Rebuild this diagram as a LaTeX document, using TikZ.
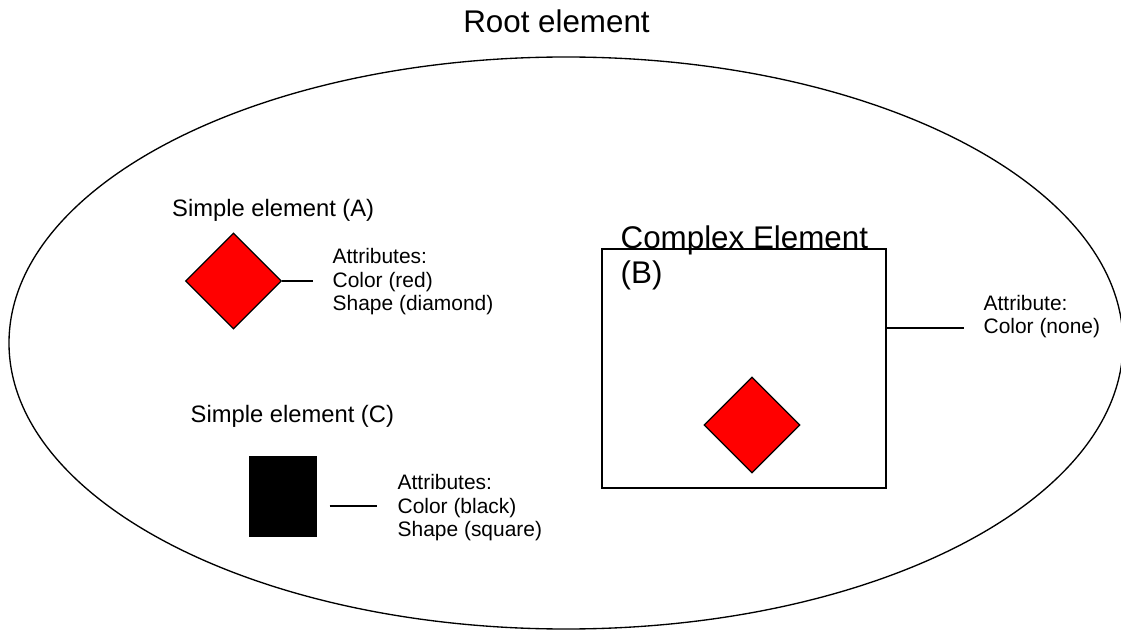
\documentclass[tikz,border=0pt]{standalone}
\usepackage{fontspec}
\setmainfont{Liberation Sans}
\usepackage{xcolor}
\usepackage{tikz}
\usetikzlibrary{shapes.geometric, positioning}
\definecolor{gemred}{RGB}{255, 0, 0}

\begin{document}
\begin{tikzpicture}[line width=0.95pt]
\tikzstyle{gem} = [diamond, draw=black, fill=gemred, minimum width=2.4cm, minimum height=2.4cm, inner sep=0pt]
\tikzstyle{bigtext} = [inner sep=0pt, font=\fontsize{22.3pt}{24.9pt}\selectfont]
\tikzstyle{midtext} = [inner sep=0pt, font=\fontsize{16.9pt}{20pt}\selectfont]
\tikzstyle{attr} = [inner sep=0pt, align=left, font=\fontsize{14.9pt}{16.7pt}\selectfont]

\clip (0,0) rectangle (28.025,15.75);

% Root element
\draw (14.15,7.175) ellipse (13.925cm and 7.15cm);
\node[bigtext, anchor=base] (root) at (13.9125,14.925) {Root element};

% Simple element (A)
\node[midtext, anchor=base west] (titleA) at (4.2875,10.325) {Simple element (A)};
\node[gem] (gemA) at (5.8375,8.725) {};
\node[attr, anchor=west] (attrA) at (8.3,8.7) {Attributes:\\Color (red)\\Shape (diamond)};

% Simple element (C)
\node[midtext, anchor=base west] (titleC) at (4.75,5.2) {Simple element (C)};
\node[fill=black, minimum width=1.7cm, minimum height=2.025cm, inner sep=0pt] (rectC) at (7.075,3.3375) {};
\node[attr, anchor=west] (attrC) at (9.925,3.05) {Attributes:\\Color (black)\\Shape (square)};

% Complex element (B)
\node[draw, minimum width=7.1cm, minimum height=5.975cm, inner sep=0pt] (boxB) at (18.6,6.5375) {};
\node[bigtext, align=left, anchor=north west] (titleB) at (15.5,10.13) {Complex Element\\(B)};
\node[gem] (gemB) at (18.8,5.125) {};
\node[attr, anchor=west] (attrB) at (24.575,7.8375) {Attribute:\\Color (none)};

% Links
\draw[shorten >=0.475cm] (gemA.east) -- (gemA.east -| attrA.west);
\draw[shorten <=0.3cm, shorten >=0.5cm] ([yshift=0.05cm]rectC.east |- attrC.west) -- ([yshift=0.05cm]attrC.west);
\draw[shorten >=0.475cm] ([yshift=-0.2875cm]attrB.west -| boxB.east) -- ([yshift=-0.2875cm]attrB.west);
\end{tikzpicture}
\end{document}
